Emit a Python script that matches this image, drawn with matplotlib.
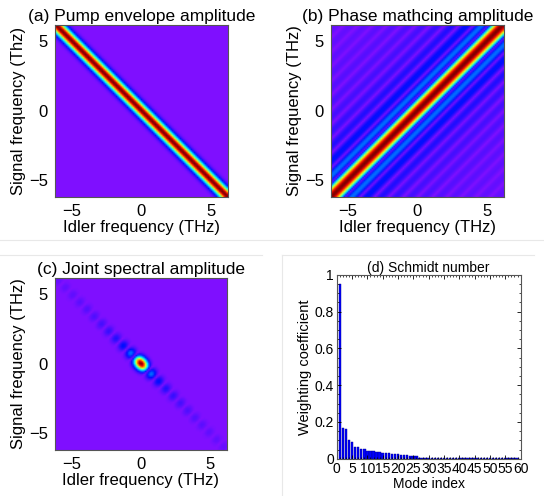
"""
Two-photon spectral figure: pump envelope, phase matching, JSA and Schmidt modes.
"""

import matplotlib
matplotlib.use('Agg')
import matplotlib.pyplot as plt
import numpy as np
from matplotlib.colors import LinearSegmentedColormap
from matplotlib.lines import Line2D
from matplotlib.ticker import MultipleLocator

plt.rcParams['font.family'] = ['Liberation Sans', 'DejaVu Sans']

# ── Spectral grid / model parameters ───────────────────────────────────────
FREQ_LIMIT = 6.2          # THz, half-range of both axes
GRID_POINTS = 111         # samples per axis in the original pcolor
PUMP_WIDTH = 0.55         # THz, 1/e half-width of the pump envelope
PM_SCALE = 3.0            # rad/THz, sinc argument scale of phase matching

TICKS = [-5, 0, 5]

# ── Schmidt decomposition weights (mode index 1..59) ──────────────────────
mode_index = list(range(1, 60))
weights = [0.950, 0.168, 0.163, 0.100, 0.092, 0.066, 0.063, 0.053, 0.051,
           0.045, 0.043, 0.042, 0.038, 0.036, 0.034, 0.031, 0.029, 0.027,
           0.026, 0.024, 0.022, 0.020, 0.019, 0.017, 0.016, 0.015] + [0.003] * 33

# jet-like map whose floor is violet instead of navy
violet_jet = LinearSegmentedColormap.from_list('violet_jet', [
    (0.00, (0.50, 0.06, 1.00)),
    (0.12, (0.00, 0.05, 1.00)),
    (0.36, (0.00, 1.00, 1.00)),
    (0.50, (0.50, 1.00, 0.50)),
    (0.63, (1.00, 1.00, 0.00)),
    (0.87, (1.00, 0.00, 0.00)),
    (1.00, (0.50, 0.00, 0.00)),
])

f = np.linspace(-FREQ_LIMIT, FREQ_LIMIT, GRID_POINTS)
w_idler, w_signal = np.meshgrid(f, f)
pump = np.exp(-((w_signal + w_idler) / PUMP_WIDTH) ** 2)
phase_match = np.abs(np.sinc(PM_SCALE * (w_signal - w_idler) / np.pi))
jsa = pump * phase_match

fig = plt.figure(figsize=(5.44, 4.96), dpi=100)


def _image_panel(rect, field, title, ylabel):
    ax = fig.add_axes(rect)
    ax.imshow(field / field.max(), cmap=violet_jet, origin='lower',
              extent=[-FREQ_LIMIT, FREQ_LIMIT, -FREQ_LIMIT, FREQ_LIMIT],
              interpolation='bilinear', vmin=0, vmax=1, aspect='auto')
    ax.set_xticks(TICKS)
    ax.set_yticks(TICKS)
    ax.tick_params(length=0, labelsize=12, pad=5)
    ax.set_xlabel('Idler frequency (THz)', fontsize=12, labelpad=1)
    ax.set_ylabel(ylabel, fontsize=12, labelpad=2)
    ax.set_title(title, fontsize=12.5, pad=3)
    for sp in ax.spines.values():
        sp.set_color('#555555')
        sp.set_linewidth(0.8)
    return ax


_image_panel([0.101, 0.603, 0.318, 0.347], pump,
             '(a) Pump envelope amplitude', 'Signal frequency (Thz)')
_image_panel([0.608, 0.603, 0.318, 0.347], phase_match,
             '(b) Phase mathcing amplitude', 'Signal frequency (THz)')
_image_panel([0.101, 0.093, 0.316, 0.347], jsa,
             '(c) Joint spectral amplitude', 'Signal frequency (THz)')

# ── Panel (d): Schmidt weights ────────────────────────────────────────────
ax = fig.add_axes([0.619, 0.075, 0.338, 0.371])
ax.bar(mode_index, weights, width=0.8, color='#0000ff',
       edgecolor='#00008b', linewidth=0.3)
ax.set_xlim(0, 60)
ax.set_ylim(0, 1)
ax.set_xticks(range(0, 61, 5))
ax.set_yticks([0, 0.2, 0.4, 0.6, 0.8, 1])
ax.set_yticklabels(['0', '0.2', '0.4', '0.6', '0.8', '1'])
ax.xaxis.set_minor_locator(MultipleLocator(1))
ax.yaxis.set_minor_locator(MultipleLocator(0.05))
ax.tick_params(which='both', direction='in', top=True, right=True,
               labelsize=10, pad=2)
ax.tick_params(which='major', length=3, width=0.6)
ax.tick_params(which='minor', length=1.5, width=0.5)
ax.set_xlabel('Mode index', fontsize=10, labelpad=1)
ax.set_ylabel('Weighting coefficient', fontsize=10.5, labelpad=2)
ax.set_title('(d) Schmidt number', fontsize=10, pad=2)
for sp in ax.spines.values():
    sp.set_color('#555555')
    sp.set_linewidth(0.8)

# faint frame lines left over from the pasted sub-figures
def _px_line(x0, y0, x1, y1):
    W, H = 544.0, 496.0
    fig.add_artist(Line2D([x0 / W, x1 / W], [1 - y0 / H, 1 - y1 / H],
                          color='#e8e8e8', linewidth=0.8))

_px_line(0, 240, 544, 240)
_px_line(0, 255, 262, 255)
_px_line(282, 255, 534, 255)
_px_line(282, 255, 282, 496)

fig.savefig('out.png', dpi=100)
